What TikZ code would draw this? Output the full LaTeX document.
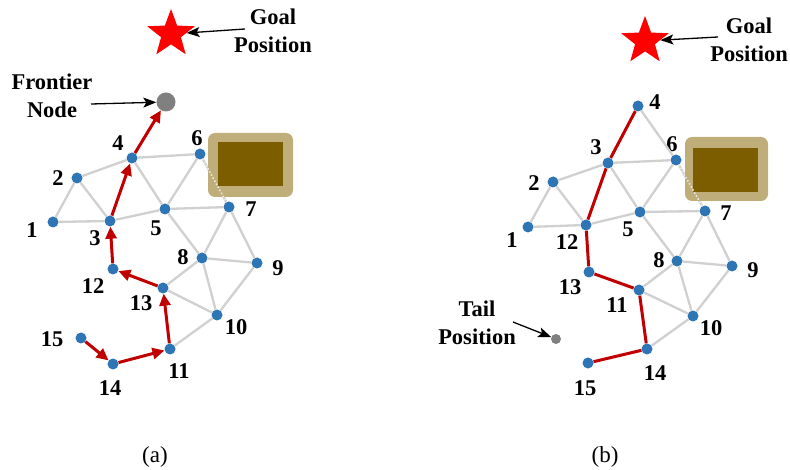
\documentclass[tikz,border=0pt]{standalone}
\usepackage{fontspec}
\setmainfont{Liberation Serif}
\usetikzlibrary{arrows.meta,shapes.geometric}
\definecolor{nodeblue}{HTML}{2E75B6}
\definecolor{pathred}{HTML}{C00000}
\definecolor{linkgray}{HTML}{D0D0D0}
\definecolor{obsttan}{HTML}{BFAE7A}
\definecolor{obstbrown}{HTML}{7C5E00}

\begin{document}
\begin{tikzpicture}[x=1pt,y=-1pt,
    vtx/.style={circle,fill=nodeblue,inner sep=0pt,minimum size=11pt},
    frontier/.style={circle,fill=gray,inner sep=0pt,minimum size=19pt},
    tailpt/.style={circle,fill=gray,inner sep=0pt,minimum size=10pt},
    goalstar/.style={star,star points=5,star point ratio=2.4,fill=red,inner sep=0pt,minimum size=50pt},
    obst/.style={rectangle,rounded corners=7pt,fill=obsttan,inner sep=0pt},
    obstin/.style={rectangle,fill=obstbrown,inner sep=0pt},
    num/.style={font=\fontsize{22.5}{26}\selectfont\bfseries,inner sep=0pt},
    txt/.style={font=\fontsize{22.5}{28}\selectfont\bfseries,align=center,inner sep=0pt},
    subcap/.style={font=\fontsize{23}{26}\selectfont,inner sep=0pt},
    link/.style={draw=linkgray,line width=2.3pt},
    hidden/.style={draw=white!85!gray,line width=1.5pt,dotted},
    route/.style={draw=pathred,line width=3pt},
    arrow/.style={route,-{Triangle[length=12pt,width=11pt]}},
    note/.style={draw=black,line width=1.3pt,-{Stealth[length=13pt,width=10pt,inset=3pt]}}
  ]
  \useasboundingbox (0,0) rectangle (790,470);

  % (a) search towards the frontier node
  \node[goalstar] (astar) at (171,34) {};
  \node[txt] (agoal) at (273,31) {Goal\\Position};
  \coordinate (agoalarr) at (245,29);
  \node[frontier] (afront) at (166,102) {};
  \node[txt] (afronttxt) at (52,96) {Frontier\\Node};
  \coordinate (afrontarr) at (91,104);

  \node[vtx] (a1) at (53,222) {};
  \node[vtx] (a2) at (77,178) {};
  \node[vtx] (a3) at (110,221) {};
  \node[vtx] (a4) at (132,158) {};
  \node[vtx] (a5) at (165,209) {};
  \node[vtx] (a6) at (200,154) {};
  \node[vtx] (a7) at (229,207) {};
  \node[vtx] (a8) at (202,258) {};
  \node[vtx] (a9) at (257,263) {};
  \node[vtx] (a10) at (217,315) {};
  \node[vtx] (a11) at (170,349) {};
  \node[vtx] (a12) at (113,269) {};
  \node[vtx] (a13) at (163,288) {};
  \node[vtx] (a14) at (113,364) {};
  \node[vtx] (a15) at (81,338) {};

  \node[num] (a1l) at (32,230) {1};
  \node[num] (a2l) at (58,178) {2};
  \node[num] (a3l) at (95,238) {3};
  \node[num] (a4l) at (118,143) {4};
  \node[num] (a5l) at (156,228) {5};
  \node[num] (a6l) at (197,138) {6};
  \node[num] (a7l) at (251,209) {7};
  \node[num] (a8l) at (183,257) {8};
  \node[num] (a9l) at (278,268) {9};
  \node[num] (a10l) at (236,327) {10};
  \node[num] (a11l) at (179,371) {11};
  \node[num] (a12l) at (93,286) {12};
  \node[num] (a13l) at (141,303) {13};
  \node[num] (a14l) at (110,388) {14};
  \node[num] (a15l) at (52,339) {15};

  \draw[link] (a1) -- (a2);
  \draw[link] (a1) -- (a3);
  \draw[link] (a2) -- (a3);
  \draw[link] (a2) -- (a4);
  \draw[link] (a3) -- (a5);
  \draw[link] (a4) -- (a5);
  \draw[link] (a4) -- (a6);
  \draw[link] (a5) -- (a6);
  \draw[link] (a5) -- (a7);
  \draw[link] (a6) -- (a7);
  \draw[link] (a5) -- (a8);
  \draw[link] (a7) -- (a8);
  \draw[link] (a7) -- (a9);
  \draw[link] (a8) -- (a9);
  \draw[link] (a8) -- (a10);
  \draw[link] (a9) -- (a10);
  \draw[link] (a8) -- (a13);
  \draw[link] (a13) -- (a10);
  \draw[link] (a10) -- (a11);

  \node[obst,minimum width=85pt,minimum height=64pt] (aobs) at (250.5,165) {};
  \node[obstin,minimum width=65pt,minimum height=44pt] (aobsin) at (250.5,164) {};
  \draw[hidden] (a6) -- (a7);

  \draw[arrow] (a15) -- (a14);
  \draw[arrow] (a14) -- (a11);
  \draw[arrow] (a11) -- (a13);
  \draw[arrow] (a13) -- (a12);
  \draw[arrow] (a12) -- (a3);
  \draw[arrow] (a3) -- (a4);
  \draw[arrow] (a4) -- (afront);
  \draw[note] (agoalarr) -- (astar);
  \draw[note] (afrontarr) -- (afront);

  % (b) path back from the tail
  \node[goalstar] (bstar) at (645,41) {};
  \node[txt] (bgoal) at (749,40) {Goal\\Position};
  \coordinate (bgoalarr) at (718,37);
  \node[tailpt] (btail) at (556,339) {};
  \node[txt] (btailtxt) at (477,323) {Tail\\Position};
  \coordinate (btailarr) at (513,322);

  \node[vtx] (b1) at (528,227) {};
  \node[vtx] (b2) at (553,182) {};
  \node[vtx] (b3) at (608,163) {};
  \node[vtx] (b4) at (638,106) {};
  \node[vtx] (b5) at (640,212) {};
  \node[vtx] (b6) at (676,160) {};
  \node[vtx] (b7) at (705,211) {};
  \node[vtx] (b8) at (677,261) {};
  \node[vtx] (b9) at (732,266) {};
  \node[vtx] (b10) at (693,316) {};
  \node[vtx] (b11) at (639,290) {};
  \node[vtx] (b12) at (586,225) {};
  \node[vtx] (b13) at (589,272) {};
  \node[vtx] (b14) at (647,349) {};
  \node[vtx] (b15) at (588,363) {};

  \node[num] (b1l) at (512,240) {1};
  \node[num] (b2l) at (534,183) {2};
  \node[num] (b3l) at (596,147) {3};
  \node[num] (b4l) at (655,102) {4};
  \node[num] (b5l) at (628,229) {5};
  \node[num] (b6l) at (672,144) {6};
  \node[num] (b7l) at (726,213) {7};
  \node[num] (b8l) at (659,260) {8};
  \node[num] (b9l) at (753,270) {9};
  \node[num] (b10l) at (711,328) {10};
  \node[num] (b11l) at (617,305) {11};
  \node[num] (b12l) at (567,242) {12};
  \node[num] (b13l) at (570,287) {13};
  \node[num] (b14l) at (655,373) {14};
  \node[num] (b15l) at (585,388) {15};

  \draw[link] (b1) -- (b2);
  \draw[link] (b1) -- (b12);
  \draw[link] (b2) -- (b12);
  \draw[link] (b2) -- (b3);
  \draw[link] (b3) -- (b5);
  \draw[link] (b3) -- (b6);
  \draw[link] (b4) -- (b6);
  \draw[link] (b5) -- (b6);
  \draw[link] (b5) -- (b12);
  \draw[link] (b5) -- (b7);
  \draw[link] (b6) -- (b7);
  \draw[link] (b5) -- (b8);
  \draw[link] (b7) -- (b8);
  \draw[link] (b7) -- (b9);
  \draw[link] (b8) -- (b9);
  \draw[link] (b8) -- (b10);
  \draw[link] (b9) -- (b10);
  \draw[link] (b8) -- (b11);
  \draw[link] (b11) -- (b10);
  \draw[link] (b10) -- (b14);

  \node[obst,minimum width=83pt,minimum height=64pt] (bobs) at (726.5,169) {};
  \node[obstin,minimum width=65pt,minimum height=44pt] (bobsin) at (725.5,170) {};
  \draw[hidden] (b6) -- (b7);

  \draw[route] (b4) -- (b3);
  \draw[route] (b3) -- (b12);
  \draw[route] (b12) -- (b13);
  \draw[route] (b13) -- (b11);
  \draw[route] (b11) -- (b14);
  \draw[route] (b14) -- (b15);
  \draw[note] (bgoalarr) -- (bstar);
  \draw[note] (btailarr) -- (btail);

  \node[subcap] (acap) at (155,457) {(a)};
  \node[subcap] (bcap) at (605,457) {(b)};
\end{tikzpicture}
\end{document}
